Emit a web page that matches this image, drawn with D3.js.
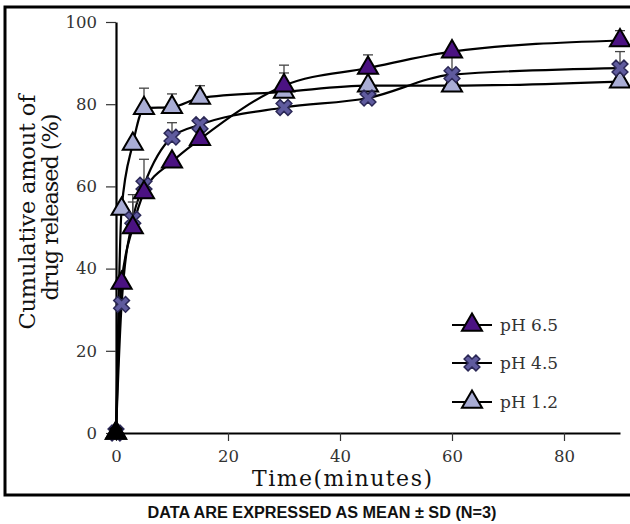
<!DOCTYPE html>
<html>
  <head>
    <script src="https://d3js.org/d3.v7.min.js"></script>
    <style>
      body, html { margin: 0; padding: 0; background: #fff; overflow: hidden; }
    </style>
  </head>
  <body>
    <svg id="chart" width="630" height="524"></svg>
    <script>
      // time points (minutes)
      var times = [0, 1, 3, 5, 10, 15, 30, 45, 60, 90];
      var ph65 = [0, 36.5, 50, 58.5, 66, 71.5, 84.5, 88.8, 92.8, 95.5];
      var ph45 = [0, 31.3, 52, 60.3, 72, 75, 79.2, 81.5, 87.2, 88.8];
      var ph12 = [0, 54.5, 70.3, 79, 79.3, 81.5, 83, 84.5, 84.5, 85.5];
      // upper SD bars
      var ph65Err = [0, 0, 6.2, 0, 0, 0, 5, 3.2, 0, 2.4];
      var ph45Err = [0, 0, 6, 6.3, 3.5, 0, 0, 0, 5, 4];
      var ph12Err = [0, 0, 0, 4.9, 3.2, 3, 4.6, 0, 0, 0];
      var xTicks = [0, 20, 40, 60, 80];
      var yTicks = [0, 20, 40, 60, 80, 100];
      var seriesNames = ["pH 6.5", "pH 4.5", "pH 1.2"];

      var series = [
        { name: seriesNames[0], vals: ph65, err: ph65Err, shape: "tri", fill: "#4b1282", stroke: "#000" },
        { name: seriesNames[1], vals: ph45, err: ph45Err, shape: "x", fill: "#5f5b9e", stroke: "#2b2856" },
        { name: seriesNames[2], vals: ph12, err: ph12Err, shape: "tri", fill: "#a9add5", stroke: "#000" },
      ];

      var svg = d3.select("#chart");
      var serif = "'DejaVu Serif', serif";

      // outer frame
      svg.append("rect")
        .attr("x", 5).attr("y", 7).attr("width", 660).attr("height", 488)
        .attr("fill", "none").attr("stroke", "#000").attr("stroke-width", 3);

      var x = d3.scaleLinear().domain([0, 90]).range([116, 620]);
      var y = d3.scaleLinear().domain([0, 100]).range([433, 22]);

      // axes
      var xAxis = svg.append("g").attr("transform", "translate(0," + y(0) + ")")
        .call(d3.axisBottom(x).tickValues(xTicks).tickSize(8).tickPadding(9).tickSizeOuter(0));
      var yAxis = svg.append("g").attr("transform", "translate(" + x(0) + ",0)")
        .call(d3.axisLeft(y).tickValues(yTicks).tickSize(10).tickPadding(9).tickSizeOuter(0));
      [xAxis, yAxis].forEach(function (g) {
        g.select(".domain").attr("stroke", "#000").attr("stroke-width", 2.2);
        g.selectAll(".tick line").attr("stroke", "#333").attr("stroke-width", 1.2);
        g.selectAll(".tick text")
          .attr("font-family", serif).attr("font-size", 16.5).attr("fill", "#333");
      });

      // curves
      var line = d3.line()
        .x(function (d, i) { return x(times[i]); })
        .y(function (d) { return y(d); })
        .curve(d3.curveMonotoneX);

      series.forEach(function (s) {
        svg.append("path").attr("d", line(s.vals))
          .attr("fill", "none").attr("stroke", "#000").attr("stroke-width", 2.2);
      });

      // error bars (upper)
      series.forEach(function (s) {
        s.err.forEach(function (e, i) {
          if (!e) return;
          var cx = x(times[i]), y0 = y(s.vals[i]), y1 = y(s.vals[i] + e);
          svg.append("line").attr("x1", cx).attr("x2", cx).attr("y1", y0).attr("y2", y1)
            .attr("stroke", "#444").attr("stroke-width", 1.3);
          svg.append("line").attr("x1", cx - 5).attr("x2", cx + 5).attr("y1", y1).attr("y2", y1)
            .attr("stroke", "#444").attr("stroke-width", 1.3);
        });
      });

      var tri = d3.symbol().type(d3.symbolTriangle).size(175);
      var cross = d3.symbol().type(d3.symbolCross).size(155);

      function drawMarker(g, s, cx, cy, black) {
        if (s.shape === "tri") {
          g.append("path").attr("d", tri())
            .attr("transform", "translate(" + cx + "," + cy + ")")
            .attr("fill", black ? "#000" : s.fill).attr("stroke", s.stroke)
            .attr("stroke-width", 2).attr("stroke-linejoin", "miter");
        } else {
          g.append("path").attr("d", cross())
            .attr("transform", "translate(" + cx + "," + cy + ") rotate(45)")
            .attr("fill", black ? "#000" : s.fill).attr("stroke", s.stroke)
            .attr("stroke-width", 1.5);
        }
      }

      // markers: draw pH 1.2 first, pH 6.5 on top
      var marks = svg.append("g");
      series.slice().reverse().forEach(function (s) {
        s.vals.forEach(function (v, i) {
          drawMarker(marks, s, x(times[i]), y(v), v === 0);
        });
      });

      // legend
      var legY = [325, 363, 402];
      series.forEach(function (s, i) {
        var g = svg.append("g");
        g.append("line").attr("x1", 452).attr("x2", 492).attr("y1", legY[i]).attr("y2", legY[i])
          .attr("stroke", "#000").attr("stroke-width", 2.2);
        drawMarker(g, s, 472, legY[i], false);
        g.append("text").attr("x", 500).attr("y", legY[i] + 6)
          .attr("font-family", serif).attr("font-size", 17).attr("fill", "#333")
          .text(s.name);
      });

      // axis titles
      svg.append("text").attr("x", 342).attr("y", 486)
        .attr("text-anchor", "middle").attr("font-family", serif).attr("font-size", 22)
        .attr("textLength", 180).attr("lengthAdjust", "spacing").attr("fill", "#111")
        .text("Time(minutes)");

      svg.append("text").attr("transform", "translate(35,212) rotate(-90)")
        .attr("text-anchor", "middle").attr("font-family", serif).attr("font-size", 22.5)
        .attr("textLength", 235).attr("lengthAdjust", "spacing").attr("fill", "#111")
        .text("Cumulative amout of");
      svg.append("text").attr("transform", "translate(58,207) rotate(-90)")
        .attr("text-anchor", "middle").attr("font-family", serif).attr("font-size", 22.5)
        .attr("textLength", 187).attr("lengthAdjust", "spacing").attr("fill", "#111")
        .text("drug released (%)");

      // caption
      svg.append("text").attr("x", 322).attr("y", 518)
        .attr("text-anchor", "middle").attr("font-family", "'Liberation Sans', Arial, sans-serif")
        .attr("font-weight", "bold").attr("font-size", 16)
        .attr("textLength", 349).attr("lengthAdjust", "spacingAndGlyphs").attr("fill", "#111")
        .text("DATA ARE EXPRESSED AS MEAN \u00b1 SD (N=3)");
    </script>
  </body>
</html>
